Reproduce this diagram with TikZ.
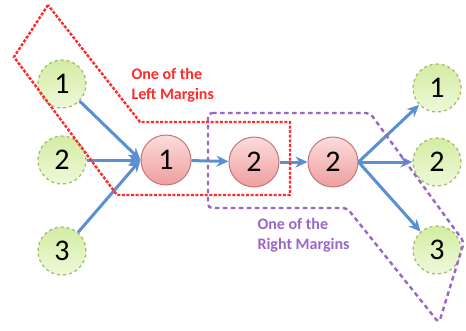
\documentclass[tikz,border=0pt]{standalone}
\usepackage{fontspec}
\setmainfont{Carlito}
\usetikzlibrary{arrows.meta}
\definecolor{leafedge}{HTML}{A3BC72}
\definecolor{leaftop}{HTML}{D3EDA2}
\definecolor{leafbot}{HTML}{EEF9DA}
\definecolor{coreedge}{HTML}{C47676}
\definecolor{coretop}{HTML}{FCDCDC}
\definecolor{corebot}{HTML}{EE9E9E}
\definecolor{flow}{HTML}{5B8FD3}
\definecolor{leftmargin}{HTML}{FF2A2A}
\definecolor{rightmargin}{HTML}{9966C8}
\tikzset{
  leaf/.style={circle, minimum size=48pt, inner sep=0pt, draw=leafedge, dashed,
    line width=1.3pt, top color=leaftop, bottom color=leafbot,
    font=\fontsize{30}{30}\selectfont},
  core/.style={circle, minimum size=50pt, inner sep=0pt, draw=coreedge,
    line width=1pt, top color=coretop, bottom color=corebot,
    font=\fontsize{30}{30}\selectfont},
  arr/.style={draw=flow, line width=3pt, -{Stealth[length=12pt,width=11pt]}},
  lmargin/.style={draw=leftmargin, line width=2.4pt, dash pattern=on 3pt off 1.6pt},
  rmargin/.style={draw=rightmargin, line width=2.4pt, dash pattern=on 4.5pt off 3.5pt,
    rounded corners=4pt},
  mlabel/.style={font=\bfseries\fontsize{16}{20}\selectfont, align=left, anchor=west}
}
\begin{document}
\begin{tikzpicture}[x=1pt,y=-1pt]
\useasboundingbox (0,0) rectangle (466,330);
% input leaves
\node[leaf] (l1) at (62,84) {1};
\node[leaf] (l2) at (62,160) {2};
\node[leaf] (l3) at (62,251) {3};
% core chain
\node[core] (c1) at (166,160) {1};
\node[core] (c2) at (254,162) {2};
\node[core] (c3) at (333,162) {2};
% output leaves
\node[leaf] (r1) at (437,88) {1};
\node[leaf] (r2) at (437,162) {2};
\node[leaf] (r3) at (437,250) {3};
% connectors
\draw[arr] (l1) -- (c1.west);
\draw[arr] (l2) -- (c1.west);
\draw[arr] (l3) -- (c1.west);
\draw[arr] (c1) -- (c2);
\draw[arr] (c2) -- (c3);
\draw[arr] (c3.east) -- (r1);
\draw[arr] (c3.east) -- (r2);
\draw[arr] (c3.east) -- (r3);
% margin outlines
\coordinate (la) at (48,5);
\coordinate (lb) at (14,57);
\coordinate (lc) at (117,195);
\coordinate (ld) at (290,195);
\coordinate (le) at (290,122);
\coordinate (lf) at (140,122);
\draw[lmargin] (la) -- (lb) -- (lc) -- (ld) -- (le) -- (lf) -- cycle;
\coordinate (ra) at (208,113);
\coordinate (rb) at (370,113);
\coordinate (rc) at (464,242);
\coordinate (rd) at (439,323);
\coordinate (re) at (347,208);
\coordinate (rf) at (208,208);
\draw[rmargin] (ra) -- (rb) -- (rc) -- (rd) -- (re) -- (rf) -- cycle;
% labels
\node[mlabel, text=leftmargin] (lt) at (128,85) {One of the\\Left Margins};
\node[mlabel, text=rightmargin] (rt) at (254,235) {One of the\\Right Margins};
\end{tikzpicture}
\end{document}
